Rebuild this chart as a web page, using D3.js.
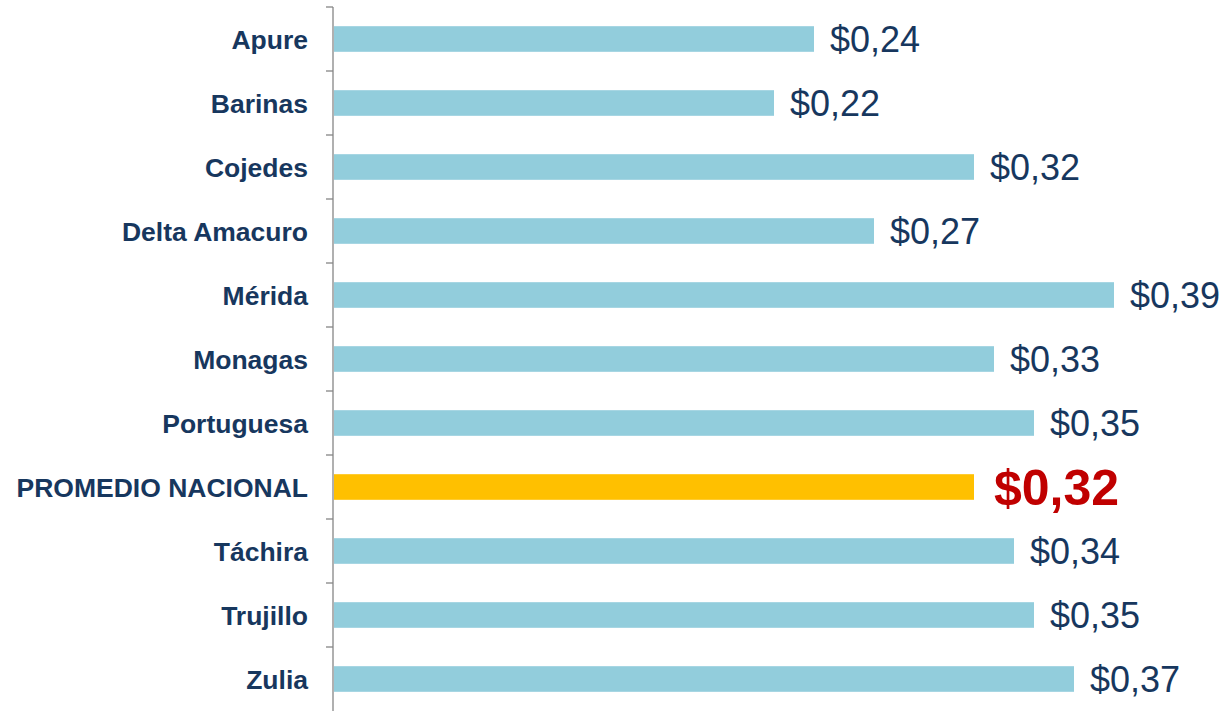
<!DOCTYPE html>
<html>
<head>
<meta charset="utf-8">
<script src="https://cdn.jsdelivr.net/npm/d3@7"></script>
<style>
  body { margin: 0; background: #fff; }
  svg { display: block; font-family: "Liberation Sans", Arial, sans-serif; }
</style>
</head>
<body>
<svg id="chart" width="1228" height="711"></svg>
<script>
// data
var estados = ["Apure", "Barinas", "Cojedes", "Delta Amacuro", "Mérida", "Monagas",
               "Portuguesa", "PROMEDIO NACIONAL", "Táchira", "Trujillo", "Zulia"];
var precios = [0.24, 0.22, 0.32, 0.27, 0.39, 0.33, 0.35, 0.32, 0.34, 0.35, 0.37];
var destacado = "PROMEDIO NACIONAL";

var svg = d3.select("#chart");
var axisX = 333;

var x = d3.scaleLinear().domain([0, 0.4]).range([334, 1134]);
var y = d3.scaleBand()
    .domain(estados)
    .range([7, 711])
    .paddingInner(0.6)
    .paddingOuter(0.3);

var fmt = function (v) { return "$" + d3.format(".2f")(v).replace(".", ","); };

var data = estados.map(function (e, i) { return { estado: e, valor: precios[i] }; });

// bars
svg.append("g")
  .selectAll("rect")
  .data(data)
  .enter()
  .append("rect")
  .attr("x", x(0))
  .attr("y", function (d) { return y(d.estado); })
  .attr("width", function (d) { return x(d.valor) - x(0); })
  .attr("height", y.bandwidth())
  .attr("fill", function (d) { return d.estado == destacado ? "#ffc000" : "#92cddc"; });

// axis line + ticks between categories
var ax = svg.append("g").attr("stroke", "#868686").attr("stroke-width", 1.3);
ax.append("line")
  .attr("x1", axisX).attr("x2", axisX)
  .attr("y1", y.range()[0]).attr("y2", y.range()[1]);
ax.selectAll("line.tick")
  .data(d3.range(estados.length))
  .enter()
  .append("line")
  .attr("class", "tick")
  .attr("x1", axisX - 7).attr("x2", axisX)
  .attr("y1", function (i) { return y.range()[0] + i * y.step(); })
  .attr("y2", function (i) { return y.range()[0] + i * y.step(); });

// category labels
svg.append("g")
  .selectAll("text")
  .data(data)
  .enter()
  .append("text")
  .attr("x", axisX - 25)
  .attr("y", function (d) { return y(d.estado) + y.bandwidth() / 2 + 9.5; })
  .attr("text-anchor", "end")
  .attr("font-size", "26.5px")
  .attr("font-weight", "bold")
  .attr("fill", "#17375e")
  .text(function (d) { return d.estado; });

// value labels
svg.append("g")
  .selectAll("text")
  .data(data)
  .enter()
  .append("text")
  .attr("x", function (d) { return x(d.valor) + (d.estado == destacado ? 20 : 16); })
  .attr("y", function (d) {
    var fs = d.estado == destacado ? 50 : 36;
    return y(d.estado) + y.bandwidth() / 2 + fs * 0.36;
  })
  .attr("font-size", function (d) { return d.estado == destacado ? "50px" : "36px"; })
  .attr("font-weight", function (d) { return d.estado == destacado ? "bold" : "normal"; })
  .attr("fill", function (d) { return d.estado == destacado ? "#c00000" : "#17375e"; })
  .text(function (d) { return fmt(d.valor); });
</script>
</body>
</html>
